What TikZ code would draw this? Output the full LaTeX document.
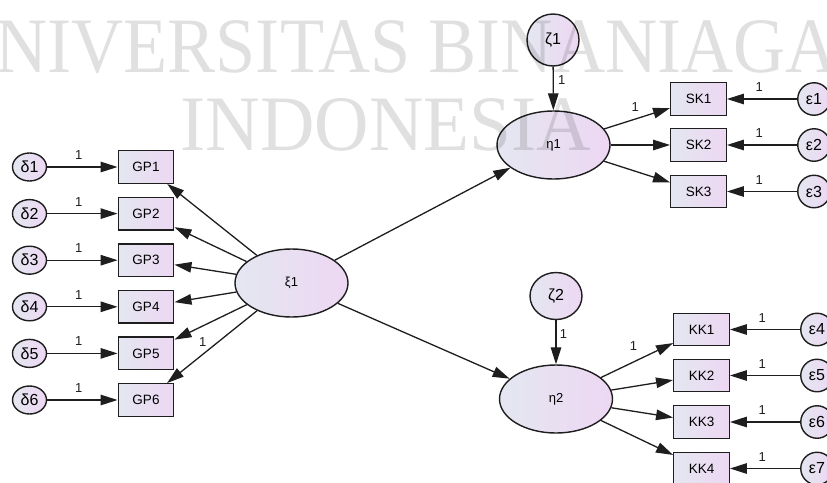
\documentclass[tikz,border=0pt]{standalone}
\usepackage{fontspec}
\setmainfont{Liberation Sans}
\newfontfamily\wmfont{Liberation Serif}
\usetikzlibrary{arrows.meta,shapes.geometric}

\definecolor{fillL}{RGB}{228,231,241}
\definecolor{fillR}{RGB}{237,215,242}
\definecolor{edge}{RGB}{30,30,30}

\tikzset{
  shaded/.style={draw=edge, line width=1.4pt, left color=fillL, right color=fillR, inner sep=0pt},
  latent/.style={shaded, ellipse, minimum width=113pt, minimum height=68pt, font=\fontsize{13}{13}\selectfont},
  errsmall/.style={shaded, ellipse, minimum width=34pt, minimum height=28pt, font=\fontsize{16}{16}\selectfont},
  errc/.style={shaded, circle, minimum size=32.5pt, font=\fontsize{16}{16}\selectfont},
  dist/.style={shaded, ellipse, minimum width=52pt, minimum height=52pt, font=\fontsize{16}{16}\selectfont},
  obs/.style={shaded, rectangle, minimum width=55.5pt, minimum height=32.5pt, font=\fontsize{13.5}{13.5}\selectfont},
  pth/.style={draw=edge, line width=1.3pt, -{Triangle[length=17pt,width=10.5pt]}},
  one/.style={inner sep=0pt, font=\fontsize{13}{13}\selectfont, text=edge},
  wm/.style={inner sep=0pt, anchor=base west, text=black, text opacity=0.12,
             font=\wmfont\fontsize{78.5}{78.5}\selectfont}
}

\begin{document}
\begin{tikzpicture}[x=1pt,y=-1pt]
\useasboundingbox (0,0) rectangle (827,482);
\clip (0,0) rectangle (827,482);
\fill[white] (0,0) rectangle (827,482);

% exogenous block: indicators GP1..GP6 with their errors
\foreach \i/\y in {1/167,2/213.6,3/260.2,4/306.8,5/353.4,6/400}{
  \node[errsmall] (d\i) at (29.5,\y) {δ\i};
  \node[obs] (gp\i) at (146,\y) {GP\i};
}

% latent variables and disturbances
\node[latent] (xi) at (291.5,283) {ξ1};
\node[latent] (eta1) at (553.5,145) {η1};
\node[latent] (eta2) at (556,399) {η2};
\node[dist] (z1) at (553,40) {ζ1};
\node[dist, minimum height=47pt] (z2) at (556,296) {ζ2};

% endogenous indicators
\foreach \i/\y in {1/99,2/145,3/191.5}{
  \node[obs] (sk\i) at (698.5,\y) {SK\i};
  \node[errc] (e\i) at (814,\y) {ε\i};
}
\foreach \i/\j/\y in {1/4/329.5,2/5/375.5,3/6/422,4/7/468.5}{
  \node[obs] (kk\i) at (701.5,\y) {KK\i};
  \node[errc] (e\j) at (817,\y) {ε\j};
}

% paths
\foreach \i in {1,...,6}{
  \draw[pth] (d\i) -- node[one, pos=0.45, yshift=12pt] {1} (gp\i);
}
\foreach \i in {1,2,3,4,6}{
  \draw[pth] (xi) -- (gp\i);
}
\draw[pth] (xi) -- node[one, pos=0.61, yshift=-16pt] {1} (gp5);
\draw[pth] (xi) -- (eta1);
\draw[pth] (xi) -- (eta2);
\draw[pth] (z1) -- node[one, pos=0.3, xshift=8.5pt] {1} (eta1);
\draw[pth] (z2) -- node[one, pos=0.31, xshift=7.5pt] {1} (eta2);
\draw[pth] (eta1) -- node[one, pos=0.47, yshift=12pt] {1} (sk1);
\draw[pth] (eta1) -- (sk2);
\draw[pth] (eta1) -- (sk3);
\draw[pth] (eta2) -- node[one, pos=0.45, yshift=16pt] {1} (kk1);
\foreach \i in {2,3,4}{
  \draw[pth] (eta2) -- (kk\i);
}
\foreach \i in {1,2,3}{
  \draw[pth] (e\i) -- node[one, pos=0.54, yshift=11.5pt] {1} (sk\i);
}
\foreach \i/\j in {1/4,2/5,3/6,4/7}{
  \draw[pth] (e\j) -- node[one, pos=0.54, yshift=11.5pt] {1} (kk\i);
}

% watermark over the drawing
\node[wm] (wm1) at (-5,72) {\scalebox{0.92}[1]{NIVERSITAS BINANIAGA}};
\node[wm] (wm2) at (180.5,150) {\scalebox{0.96}[1]{INDONESIA}};
\end{tikzpicture}
\end{document}
